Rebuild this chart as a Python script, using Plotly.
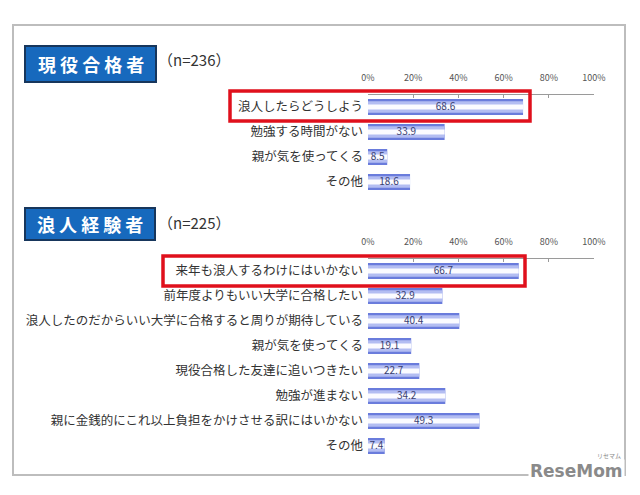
import plotly.graph_objects as go

W, H = 640, 495
OFF = 8  # page body margin in the viewer

top_title = "現 役 合 格 者"
top_n = "（n=236）"
top_cats = ["浪人したらどうしよう", "勉強する時間がない", "親が気を使ってくる", "その他"]
top_vals = [68.6, 33.9, 8.5, 18.6]

bot_title = "浪 人 経 験 者"
bot_n = "（n=225）"
bot_cats = [
    "来年も浪人するわけにはいかない",
    "前年度よりもいい大学に合格したい",
    "浪人したのだからいい大学に合格すると周りが期待している",
    "親が気を使ってくる",
    "現役合格した友達に追いつきたい",
    "勉強が進まない",
    "親に金銭的にこれ以上負担をかけさせる訳にはいかない",
    "その他",
]
bot_vals = [66.7, 32.9, 40.4, 19.1, 22.7, 34.2, 49.3, 7.4]

tick_vals = [0, 20, 40, 60, 80, 100]
tick_text = ["0%", "20%", "40%", "60%", "80%", "100%"]

FONT = "Noto Sans CJK JP"


def px_x(p):
    return (p - OFF) / W


def px_y(p):
    return 1 - (p - OFF) / H


fig = go.Figure()


def add_panel(cats, vals, xa, ya):
    layers = [(0.64, "#6a7cdc"), (0.46, "#b3bdf2"), (0.2, "#fbfbff")]
    for w, c in layers:
        fig.add_trace(go.Bar(
            x=vals, y=cats, orientation="h", width=w,
            marker=dict(color=c, line=dict(width=0)),
            xaxis=xa, yaxis=ya, showlegend=False, hoverinfo="skip",
        ))
    fig.add_trace(go.Scatter(
        x=[v / 2 for v in vals], y=cats, mode="text",
        text=[f"{v:.1f}" for v in vals],
        textfont=dict(size=10, color="#3a3f70", family=FONT),
        xaxis=xa, yaxis=ya, showlegend=False, hoverinfo="skip",
    ))


add_panel(top_cats, top_vals, "x", "y")
add_panel(bot_cats, bot_vals, "x2", "y2")

x_dom = [px_x(368), px_x(594)]
xcommon = dict(
    range=[0, 100], side="top", tickvals=tick_vals, ticktext=tick_text,
    showgrid=False, zeroline=False, showline=True, linecolor="#9a9a9a",
    linewidth=1, ticks="inside", ticklen=3, tickcolor="#9a9a9a",
    tickfont=dict(size=9, color="#555555", family=FONT),
    ticklabelstandoff=9, domain=x_dom, fixedrange=True, automargin=False,
)
ycommon = dict(
    showgrid=False, zeroline=False, showline=False, ticks="",
    tickfont=dict(size=12.5, color="#333333", family=FONT),
    ticklabelstandoff=4, fixedrange=True, automargin=False,
)

fig.update_layout(
    width=W, height=H,
    margin=dict(l=0, r=0, t=0, b=0, autoexpand=False),
    paper_bgcolor="white", plot_bgcolor="rgba(0,0,0,0)",
    barmode="overlay",
    font=dict(family=FONT),
    xaxis=dict(anchor="y", **xcommon),
    xaxis2=dict(anchor="y2", **xcommon),
    yaxis=dict(anchor="x", domain=[px_y(194.5), px_y(94.5)],
               type="category", categoryarray=top_cats,
               range=[len(top_cats) - 0.5, -0.5], **ycommon),
    yaxis2=dict(anchor="x2", domain=[px_y(458.5), px_y(258.5)],
                type="category", categoryarray=bot_cats,
                range=[len(bot_cats) - 0.5, -0.5], **ycommon),
)

shapes = []
# outer frame
shapes.append(dict(type="rect", xref="paper", yref="paper",
                   x0=px_x(13), x1=px_x(625), y0=px_y(475), y1=px_y(25),
                   line=dict(color="#bdbdbd", width=2), layer="below"))
# title boxes
for (x0, x1, y0, y1) in [(25, 156, 46, 82), (25, 155, 208, 240)]:
    shapes.append(dict(type="rect", xref="paper", yref="paper",
                       x0=px_x(x0), x1=px_x(x1), y0=px_y(y1), y1=px_y(y0),
                       fillcolor="#1769bd", line=dict(color="#17365c", width=2),
                       layer="below"))
# red highlight boxes
for (x0, x1, y0, y1) in [(230, 530, 91, 121), (163, 525, 256, 286)]:
    shapes.append(dict(type="rect", xref="paper", yref="paper",
                       x0=px_x(x0), x1=px_x(x1), y0=px_y(y1), y1=px_y(y0),
                       line=dict(color="#e0101c", width=3.5), layer="above"))
fig.update_layout(shapes=shapes)

ann = []
ann.append(dict(text=f"<b>{top_title}</b>", x=px_x(90.5), y=px_y(64), xref="paper", yref="paper",
                xanchor="center", yanchor="middle",
                showarrow=False, font=dict(size=18, color="white", family=FONT)))
ann.append(dict(text=f"<b>{bot_title}</b>", x=px_x(90), y=px_y(224), xref="paper", yref="paper",
                xanchor="center", yanchor="middle",
                showarrow=False, font=dict(size=18, color="white", family=FONT)))
ann.append(dict(text=top_n, x=px_x(156), y=px_y(59), xref="paper", yref="paper",
                xanchor="left", yanchor="middle",
                showarrow=False, font=dict(size=15, color="#333333", family=FONT)))
ann.append(dict(text=bot_n, x=px_x(156), y=px_y(222), xref="paper", yref="paper",
                xanchor="left", yanchor="middle",
                showarrow=False, font=dict(size=15, color="#333333", family=FONT)))
ann.append(dict(text="<b>ReseMom</b>", x=px_x(576), y=px_y(471), xref="paper", yref="paper",
                xanchor="center", yanchor="middle",
                showarrow=False, bgcolor="white", borderpad=1,
                font=dict(size=17, color="#8a8a8a", family="DejaVu Sans")))
ann.append(dict(text="リセマム", x=px_x(609), y=px_y(455), xref="paper", yref="paper",
                xanchor="center", yanchor="middle",
                showarrow=False, font=dict(size=6, color="#8a8a8a", family=FONT)))
fig.update_layout(annotations=ann)

fig.write_html("out.html")
